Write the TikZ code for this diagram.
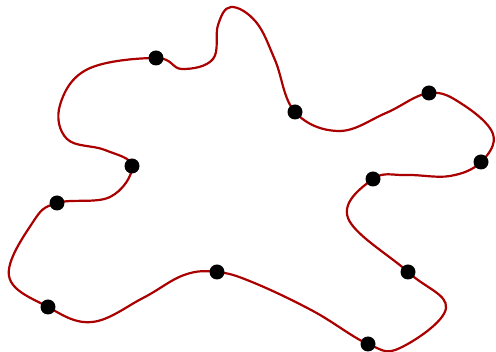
\documentclass[tikz,border=0pt]{standalone}
\usepackage{tikz}
\definecolor{curveRed}{RGB}{170,0,0}
\tikzset{
  dot/.style={circle,fill=black,inner sep=0pt,minimum size=15pt},
  blob/.style={curveRed,line width=2.2pt}
}
\begin{document}
\begin{tikzpicture}[x=1pt,y=-1pt]
  \useasboundingbox (0,0) rectangle (496,352);

  % points on the curve (d = dot, p = plain)
  \coordinate (d1) at (156,58);
  \coordinate (p1) at (182,69);
  \coordinate (p2) at (213,59);
  \coordinate (p3) at (218,25);
  \coordinate (p4) at (231,7);
  \coordinate (p5) at (256,22);
  \coordinate (p6) at (275,60);
  \coordinate (d2) at (295,112);
  \coordinate (p8) at (339,131);
  \coordinate (p9) at (386,113);
  \coordinate (d3) at (429,93);
  \coordinate (p10) at (462,104);
  \coordinate (p11) at (493,134);
  \coordinate (d4) at (481,162);
  \coordinate (p12) at (450,176);
  \coordinate (p13) at (406,175);
  \coordinate (d5) at (373,179);
  \coordinate (p14) at (348,218);
  \coordinate (d6) at (408,272);
  \coordinate (p16) at (446,308);
  \coordinate (p18) at (400,348);
  \coordinate (d7) at (368,344);
  \coordinate (p19) at (313,311);
  \coordinate (p20) at (252,282);
  \coordinate (d8) at (217,272);
  \coordinate (p21) at (184,275);
  \coordinate (p22) at (143,298);
  \coordinate (p23) at (92,322);
  \coordinate (d9) at (48,307);
  \coordinate (p24) at (9,276);
  \coordinate (p26) at (33,222);
  \coordinate (d10) at (57,203);
  \coordinate (p27) at (110,197);
  \coordinate (d11) at (132,166);
  \coordinate (p28) at (105,150);
  \coordinate (p29) at (67,139);
  \coordinate (p30) at (60,105);
  \coordinate (p31) at (88,69);

  % the closed curve
  \draw[blob] plot[smooth cycle,tension=0.65] coordinates {
    (d1) (p1) (p2) (p3) (p4) (p5) (p6) (d2) (p8) (p9) (d3)
    (p10) (p11) (d4) (p12) (p13) (d5) (p14) (d6) (p16)
    (p18) (d7) (p19) (p20) (d8) (p21) (p22) (p23) (d9) (p24)
    (p26) (d10) (p27) (d11) (p28) (p29) (p30) (p31)};

  % dots
  \foreach \i in {1,...,11}
    \node[dot] (n\i) at (d\i) {};
\end{tikzpicture}
\end{document}
